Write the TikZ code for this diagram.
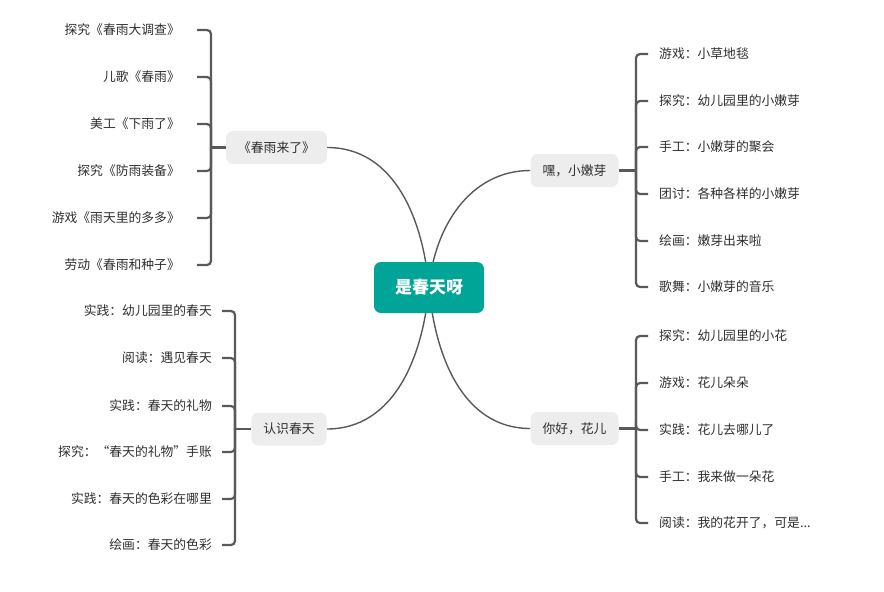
\documentclass[tikz,border=0pt]{standalone}
\usepackage{fontspec}
\setmainfont{Noto Sans CJK SC}
\usetikzlibrary{backgrounds}
\definecolor{rootteal}{HTML}{00A598}
\definecolor{topicgray}{HTML}{EDEDED}
\definecolor{linegray}{HTML}{595959}
\definecolor{textgray}{HTML}{2E2E2E}

\begin{document}
\begin{tikzpicture}[x=1pt, y=-1pt,
    root/.style={fill=rootteal, rounded corners=7pt, text=white, font=\fontsize{17}{20}\selectfont\bfseries, minimum width=110pt, minimum height=51pt},
    topic/.style={fill=topicgray, rounded corners=7pt, text=textgray, font=\fontsize{12.8}{15}\selectfont, inner xsep=12pt, minimum height=33pt},
    leaf/.style={text=textgray, font=\fontsize{12.8}{15}\selectfont, inner sep=0pt},
    link/.style={draw=linegray, line width=1.4pt},
    bracket/.style={draw=linegray, line width=2.2pt, rounded corners=4pt}]
  \useasboundingbox (0,0) rectangle (884,592);

  % root and topics
  \node[root] (root) at (429,287.5) {是春天呀};
  \node[topic] (rain) at (276.5,147.5) {《春雨来了》};
  \node[topic] (sprout) at (574.5,170.5) {嘿，小嫩芽};
  \node[topic] (see) at (289,429) {认识春天};
  \node[topic] (flower) at (574.5,428.5) {你好，花儿};

  % 春雨来了
  \node[leaf, anchor=east] (rain1) at (180,30) {探究《春雨大调查》};
  \node[leaf, anchor=east] (rain2) at (180,77) {儿歌《春雨》};
  \node[leaf, anchor=east] (rain3) at (180,124) {美工《下雨了》};
  \node[leaf, anchor=east] (rain4) at (180,171) {探究《防雨装备》};
  \node[leaf, anchor=east] (rain5) at (180,218) {游戏《雨天里的多多》};
  \node[leaf, anchor=east] (rain6) at (180,265) {劳动《春雨和种子》};

  % 认识春天
  \node[leaf, anchor=east] (see1) at (212,311) {实践：幼儿园里的春天};
  \node[leaf, anchor=east] (see2) at (212,358) {阅读：遇见春天};
  \node[leaf, anchor=east] (see3) at (212,406) {实践：春天的礼物};
  \node[leaf, anchor=east] (see4) at (212,452) {探究：“春天的礼物”手账};
  \node[leaf, anchor=east] (see5) at (212,499) {实践：春天的色彩在哪里};
  \node[leaf, anchor=east] (see6) at (212,545) {绘画：春天的色彩};

  % 嘿，小嫩芽
  \node[leaf, anchor=west] (sprout1) at (659,54) {游戏：小草地毯};
  \node[leaf, anchor=west] (sprout2) at (659,101) {探究：幼儿园里的小嫩芽};
  \node[leaf, anchor=west] (sprout3) at (659,147) {手工：小嫩芽的聚会};
  \node[leaf, anchor=west] (sprout4) at (659,194) {团讨：各种各样的小嫩芽};
  \node[leaf, anchor=west] (sprout5) at (659,241) {绘画：嫩芽出来啦};
  \node[leaf, anchor=west] (sprout6) at (659,287) {歌舞：小嫩芽的音乐};

  % 你好，花儿
  \node[leaf, anchor=west] (flower1) at (659,336) {探究：幼儿园里的小花};
  \node[leaf, anchor=west] (flower2) at (659,383) {游戏：花儿朵朵};
  \node[leaf, anchor=west] (flower3) at (659,430) {实践：花儿去哪儿了};
  \node[leaf, anchor=west] (flower4) at (659,477) {手工：我来做一朵花};
  \node[leaf, anchor=west] (flower5) at (659,523) {阅读：我的花开了，可是...};

  % brackets
  \coordinate (rainjoin) at (211,147.5);
  \coordinate (seejoin) at (235,429);
  \coordinate (sproutjoin) at (636,170.5);
  \coordinate (flowerjoin) at (636,428.5);
  \draw[bracket] (rain.west) -- (rainjoin);
  \draw[bracket] (see.west) -- (seejoin);
  \draw[bracket] (sprout.east) -- (sproutjoin);
  \draw[bracket] (flower.east) -- (flowerjoin);
  \foreach \i in {1,...,6} {
    \draw[bracket, shorten >=17pt] (rainjoin) |- (rain\i.east);
    \draw[bracket, shorten >=10pt] (seejoin) |- (see\i.east);
    \draw[bracket, shorten >=11pt] (sproutjoin) |- (sprout\i.west);
  }
  \foreach \i in {1,...,5}
    \draw[bracket, shorten >=11pt] (flowerjoin) |- (flower\i.west);

  % curves to the root
  \begin{scope}[on background layer]
    \draw[link] (rain.east) to[out=0, in=95] (root.center);
    \draw[link] (sprout.west) to[out=180, in=85] (root.center);
    \draw[link] (see.east) to[out=0, in=-95] (root.center);
    \draw[link] (flower.west) to[out=180, in=-85] (root.center);
  \end{scope}
\end{tikzpicture}
\end{document}
